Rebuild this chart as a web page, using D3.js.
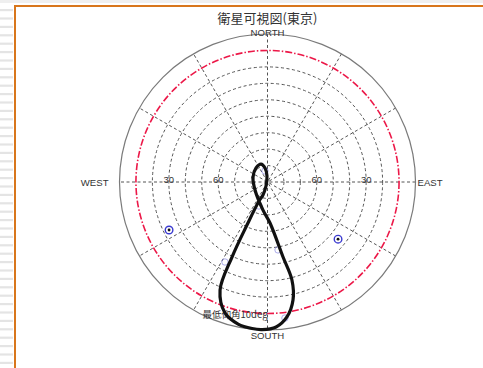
<!DOCTYPE html>
<html>
<head>
<meta charset="utf-8">
<script src="https://cdn.jsdelivr.net/npm/d3@7"></script>
<style>
  html, body { margin: 0; padding: 0; background: #fff; }
  svg { display: block; }
</style>
</head>
<body>
<svg id="chart" width="483" height="368"></svg>
<script>
// Sky plot: azimuth clockwise from north, elevation from horizon (0) to zenith (90)
const chartTitle = "衛星可視図(東京)";
const directionLabels = ["NORTH", "EAST", "SOUTH", "WEST"];
const directionAz = [0, 90, 180, 270];
const gridElevations = [20, 30, 40, 50, 60, 70, 80];
const ringLabelElevations = [30, 60];
const radialAzimuths = [0, 30, 60, 90, 120, 150];
const maskElevation = 10;
const maskLabel = "最低仰角10deg";

// Ground track of the quasi-zenith satellite (figure-eight)
const trackAz = [204.1, 205.5, 205.3, 203.7, 198.0, 191.7, 186.0, 182.1, 176.6, 171.8,
                 167.8, 166.0, 168.3, 176.5, 189.1, 237.4, 289.0, 320.6, 340.1, 349.9,
                 355.0, 200.6, 199.1];
const trackEl = [77.3, 61.0, 39.5, 18.2, 6.3, 1.8, 0.4, 0.2, 1.7, 7.1,
                 16.6, 28.6, 43.4, 65.0, 72.7, 81.0, 80.7, 79.0, 78.4, 81.4,
                 86.3, 87.4, 81.6];

// Visible satellites
const satAz = [244.0, 129.0];
const satEl = [23.4, 34.8];

// Other positions along the track
const minorAz = [347.2, 199.5, 171.2, 208.0, 172.7];
const minorEl = [83.1, 74.5, 48.2, 34.9, 6.6];

const svg = d3.select("#chart");
const W = 483, H = 368;
const cx = 267.5, cy = 182, R = 148;

// page decoration: striped side strip and orange frame
const deco = svg.append("g");
deco.append("rect").attr("x", 0).attr("y", 0).attr("width", W).attr("height", 3).attr("fill", "#efefef");
deco.selectAll("rect.stripe")
  .data(d3.range(9, H, 8.4))
  .join("rect")
  .attr("class", "stripe")
  .attr("x", 0).attr("width", 13)
  .attr("y", d => d).attr("height", 2.2)
  .attr("fill", "#e4e4e4");
deco.append("line").attr("x1", 14).attr("x2", W).attr("y1", 6).attr("y2", 6)
  .attr("stroke", "#d8761c").attr("stroke-width", 2);
deco.append("line").attr("x1", 15).attr("x2", 15).attr("y1", 5).attr("y2", H)
  .attr("stroke", "#d8761c").attr("stroke-width", 2);

const r = d3.scaleLinear().domain([90, 0]).range([0, R]);
const rad = a => a * Math.PI / 180;
const px = (az, el) => cx + r(el) * Math.sin(rad(az));
const py = (az, el) => cy - r(el) * Math.cos(rad(az));

const g = svg.append("g");

// radial spokes through the centre
g.selectAll("line.spoke")
  .data(radialAzimuths)
  .join("line")
  .attr("x1", d => px(d, 0)).attr("y1", d => py(d, 0))
  .attr("x2", d => px(d + 180, 0)).attr("y2", d => py(d + 180, 0))
  .attr("stroke", "#555").attr("stroke-width", 1)
  .attr("stroke-dasharray", "3,2.5");

// elevation rings
g.selectAll("circle.ring")
  .data(gridElevations)
  .join("circle")
  .attr("cx", cx).attr("cy", cy).attr("r", d => r(d))
  .attr("fill", "none").attr("stroke", "#555").attr("stroke-width", 1)
  .attr("stroke-dasharray", "3,2.5");

// horizon
g.append("circle").attr("cx", cx).attr("cy", cy).attr("r", r(0))
  .attr("fill", "none").attr("stroke", "#7a7a7a").attr("stroke-width", 1.2);

// elevation mask
g.append("circle").attr("cx", cx).attr("cy", cy).attr("r", r(maskElevation))
  .attr("fill", "none").attr("stroke", "#ec1848").attr("stroke-width", 1.6)
  .attr("stroke-dasharray", "7,2,1.5,2");

// ring labels on the east-west axis
const ringLbl = [];
ringLabelElevations.forEach(e => { ringLbl.push({az: 270, el: e}); ringLbl.push({az: 90, el: e}); });
g.selectAll("text.ringlbl")
  .data(ringLbl)
  .join("text")
  .attr("x", d => px(d.az, d.el)).attr("y", d => py(d.az, d.el) + 1)
  .attr("text-anchor", "middle")
  .attr("font-family", "Liberation Sans, Arial, sans-serif")
  .attr("font-size", 9.5).attr("fill", "#333")
  .text(d => d.el);

// compass labels
const dirFont = "Liberation Sans, Arial, sans-serif";
g.selectAll("text.dir")
  .data(directionLabels.map((t, i) => ({t, az: directionAz[i]})))
  .join("text")
  .attr("font-family", dirFont).attr("font-size", 9.6).attr("fill", "#333")
  .attr("text-anchor", d => d.az === 90 ? "start" : d.az === 270 ? "end" : "middle")
  .attr("x", d => d.az === 90 ? px(90, 0) + 2 : d.az === 270 ? px(270, 0) - 11 : cx)
  .attr("y", d => d.az === 0 ? py(0, 0) + 1.5 : d.az === 180 ? py(180, 0) + 9 : cy + 3.5)
  .text(d => d.t);

// mask label
g.append("text")
  .attr("x", cx).attr("y", py(180, maskElevation) + 4.5)
  .attr("text-anchor", "end")
  .attr("font-family", "Noto Sans CJK JP, sans-serif")
  .attr("font-size", 9.5).attr("fill", "#333")
  .text(maskLabel);

// faint markers along the track
g.selectAll("circle.minor")
  .data(minorAz.map((a, i) => [a, minorEl[i]]))
  .join("circle")
  .attr("cx", d => px(d[0], d[1])).attr("cy", d => py(d[0], d[1]))
  .attr("r", 3.2).attr("fill", "none")
  .attr("stroke", "#6a6ad8").attr("stroke-width", 1).attr("opacity", 0.55);

// track
const trackLine = d3.lineRadial()
  .angle(d => rad(d[0]))
  .radius(d => r(d[1]))
  .curve(d3.curveCatmullRomClosed.alpha(0.5));
g.append("path")
  .attr("transform", `translate(${cx},${cy})`)
  .attr("d", trackLine(trackAz.map((a, i) => [a, trackEl[i]])))
  .attr("fill", "none").attr("stroke", "#111").attr("stroke-width", 3.2)
  .attr("stroke-linejoin", "round");

// visible satellites
const sats = g.selectAll("g.sat")
  .data(satAz.map((a, i) => [a, satEl[i]]))
  .join("g")
  .attr("transform", d => `translate(${px(d[0], d[1])},${py(d[0], d[1])})`);
sats.append("circle").attr("r", 3.8).attr("fill", "#fff")
  .attr("stroke", "#3a3ad0").attr("stroke-width", 1.4);
sats.append("circle").attr("r", 1.4).attr("fill", "#111");

// title
svg.append("text")
  .attr("x", cx).attr("y", 23)
  .attr("text-anchor", "middle")
  .attr("font-family", "Noto Sans CJK JP, sans-serif")
  .attr("font-size", 13).attr("fill", "#333")
  .text(chartTitle);
</script>
</body>
</html>
